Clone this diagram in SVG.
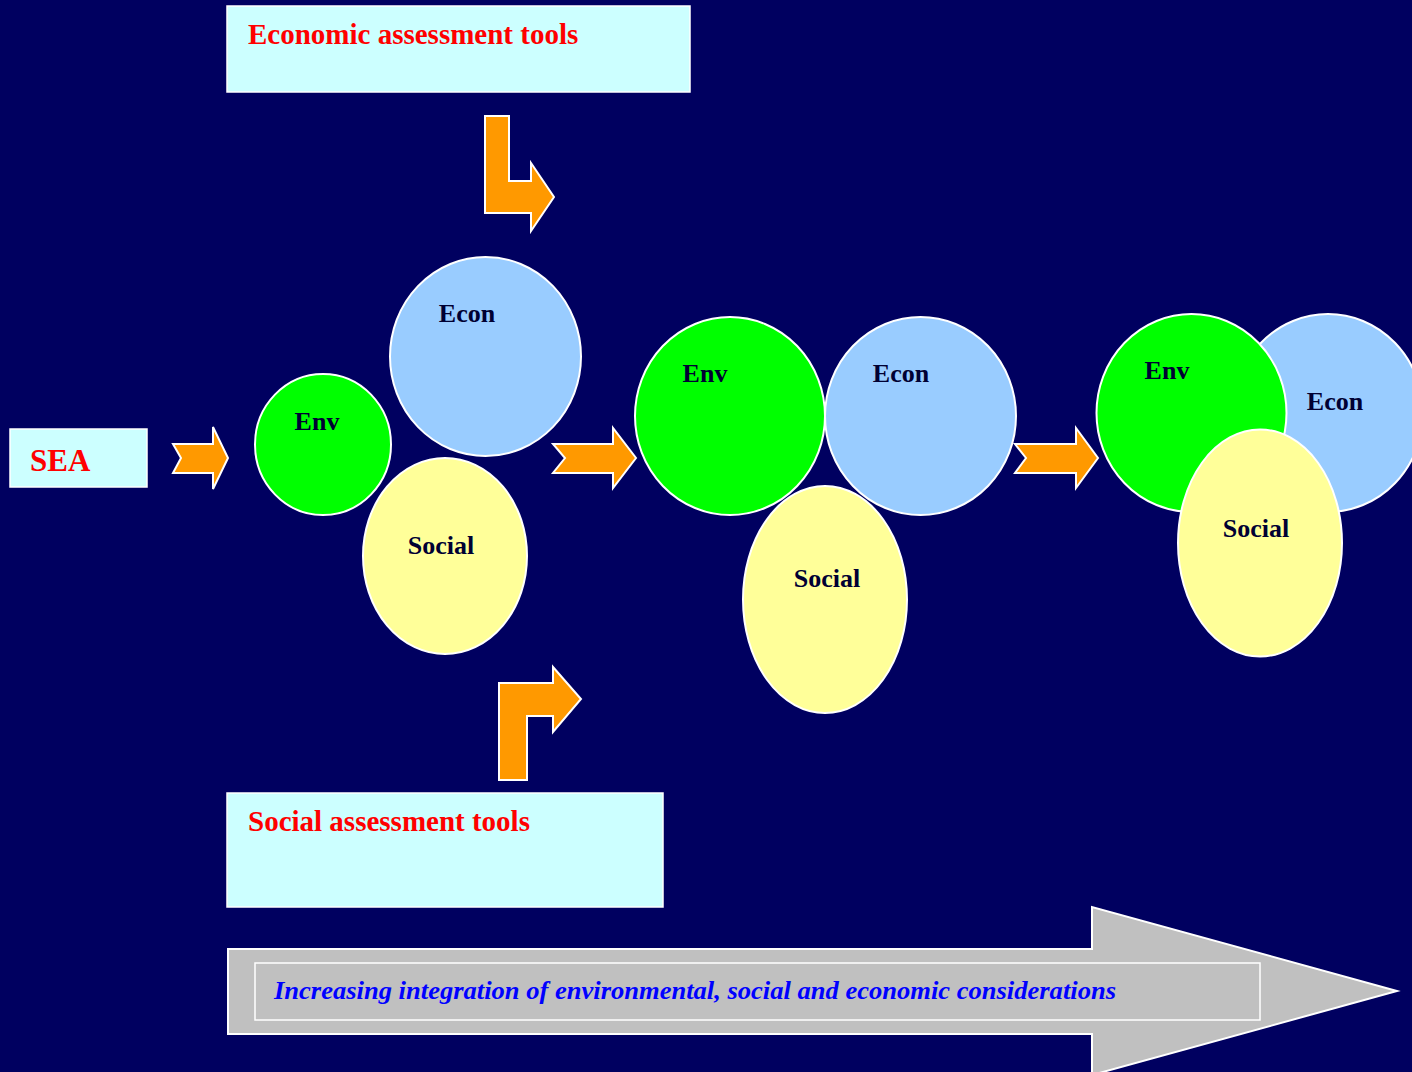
<svg xmlns="http://www.w3.org/2000/svg" width="1412" height="1072" viewBox="0 0 1412 1072">
<style>
.box{fill:#CCFFFF;stroke:#FFFFFF;stroke-width:1.5}
.title{font-family:"Liberation Serif",serif;font-weight:bold;fill:#FF0000}
.arr{fill:#FF9900;stroke:#FFFFFF;stroke-width:2}
.env{fill:#00FF00;stroke:#FFFFFF;stroke-width:2}
.econ{fill:#99CCFF;stroke:#FFFFFF;stroke-width:2}
.soc{fill:#FFFF99;stroke:#FFFFFF;stroke-width:2}
.lbl{font-family:"Liberation Serif",serif;font-weight:bold;font-size:26px;fill:#000033;text-anchor:middle}
</style>
<rect x="0" y="0" width="1412" height="1072" fill="#000060"/>

<g id="econ-tools">
<rect class="box" x="227" y="6" width="463" height="86"/>
<text class="title" x="248" y="44" font-size="29">Economic assessment tools</text>
</g>
<g id="social-tools">
<rect class="box" x="227" y="793" width="436" height="114"/>
<text class="title" x="248" y="831" font-size="29">Social assessment tools</text>
</g>
<g id="sea">
<rect class="box" x="10" y="429" width="137" height="58"/>
<text class="title" x="30" y="471" font-size="31">SEA</text>
</g>

<g id="connectors">
<path class="arr" d="M485,116 L509,116 L509,181 L531,181 L531,163 L554,197 L531,231 L531,213 L485,213 Z"/>
<path class="arr" d="M499,780 L499,683 L553,683 L553,667 L581,699 L553,732 L553,716 L527,716 L527,780 Z"/>
<path class="arr" d="M173,444 L213,444 L213,427 L228,458 L213,489 L213,473 L173,473 L181,458 Z"/>
<path class="arr" d="M553,444 L613,444 L613,428 L636,458 L613,488 L613,473 L553,473 L565,458 Z"/>
<path class="arr" d="M1015,444 L1076,444 L1076,428 L1098,458 L1076,488 L1076,473 L1015,473 L1026,458 Z"/>
</g>

<g id="stage1">
<ellipse class="env" cx="323" cy="444.5" rx="68" ry="70.5"/>
<ellipse class="econ" cx="485.5" cy="356.5" rx="95.5" ry="99.5"/>
<ellipse class="soc" cx="445" cy="556" rx="82" ry="98"/>
<text class="lbl" x="317" y="430">Env</text>
<text class="lbl" x="467" y="322">Econ</text>
<text class="lbl" x="441" y="554">Social</text>
</g>

<g id="stage2">
<ellipse class="env" cx="730" cy="416" rx="95" ry="99"/>
<ellipse class="econ" cx="920.5" cy="416" rx="95.5" ry="99"/>
<ellipse class="soc" cx="825" cy="599.5" rx="82" ry="113.5"/>
<text class="lbl" x="705" y="382">Env</text>
<text class="lbl" x="901" y="382">Econ</text>
<text class="lbl" x="827" y="587">Social</text>
</g>

<g id="stage3">
<ellipse class="econ" cx="1328" cy="413" rx="95" ry="99"/>
<ellipse class="env" cx="1191.5" cy="413" rx="95" ry="99"/>
<ellipse class="soc" cx="1260" cy="543" rx="82" ry="113.5"/>
<text class="lbl" x="1167" y="379">Env</text>
<text class="lbl" x="1335" y="410">Econ</text>
<text class="lbl" x="1256" y="537">Social</text>
</g>

<g id="integration-arrow">
<path d="M228,949 L1092,949 L1092,907 L1397,991 L1092,1075 L1092,1034 L228,1034 Z" fill="#C0C0C0" stroke="#FFFFFF" stroke-width="2"/>
<rect x="255" y="963" width="1005" height="57" fill="none" stroke="#FFFFFF" stroke-width="1.5"/>
<text x="274" y="999" font-family="Liberation Serif,serif" font-weight="bold" font-style="italic" font-size="26" fill="#0000FF" textLength="842" lengthAdjust="spacingAndGlyphs">Increasing integration of environmental, social and economic considerations</text>
</g>
</svg>
